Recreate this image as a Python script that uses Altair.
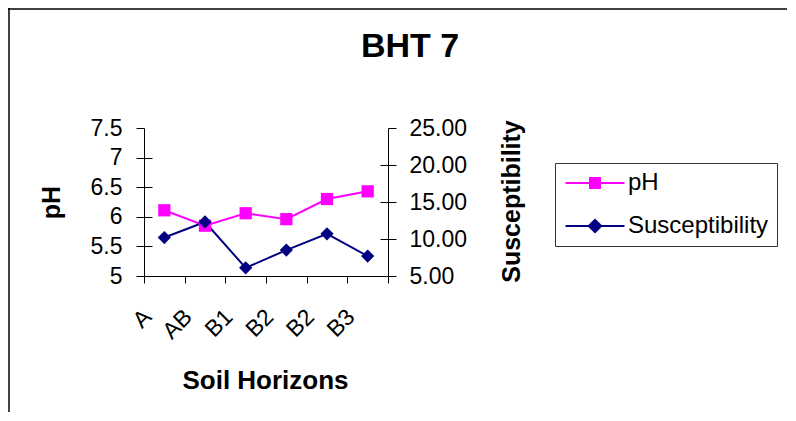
import pandas as pd
import altair as alt

# ---------------- data ----------------
title_text = "BHT 7"
x_title = "Soil Horizons"
categories = ["A", "AB", "B1", "B2", "B2", "B3"]
ph_values = [6.11, 5.85, 6.06, 5.96, 6.30, 6.43]
susc_values = [10.2, 12.3, 6.1, 8.5, 10.7, 7.7]
series_names = ["pH", "Susceptibility"]
ph_ticks = [5, 5.5, 6, 6.5, 7, 7.5]
susc_ticks = [5, 10, 15, 20, 25]

# ---------------- style ----------------
PH_COLOR = "#FF00FF"
SU_COLOR = "#000080"
FONT = "Liberation Sans"
W, H = 244, 148

records = []
for i in range(len(categories)):
    records.append({"idx": i, "series": series_names[0], "value": ph_values[i]})
    records.append({"idx": i, "series": series_names[1], "value": susc_values[i]})
df = pd.DataFrame(records)
one = pd.DataFrame({"t": [title_text]})

label_expr = "[" + ",".join("'" + c + "'" for c in categories) + "][datum.value]"


def square_symbol(h, step, half_line):
    p = [f"M{-half_line},0L{half_line},0", f"M{-h},{-h}L{h},{-h}L{h},{h}L{-h},{h}Z"]
    y = -h
    while y <= h + 1e-9:
        p.append(f"M{-h},{y:.3f}L{h},{y:.3f}")
        y += step
    return "".join(p)


def diamond_symbol(d, step, half_line):
    p = [f"M{-half_line},0L{half_line},0", f"M{-d},0L0,{-d}L{d},0L0,{d}Z"]
    y = -d
    while y <= d + 1e-9:
        w = d - abs(y)
        p.append(f"M{-w:.3f},{y:.3f}L{w:.3f},{y:.3f}")
        y += step
    return "".join(p)


sq_path = square_symbol(0.5, 0.125, 2.95)
di_path = diamond_symbol(0.62, 0.125, 2.95)

x_enc = alt.X(
    "idx:O",
    scale=alt.Scale(type="band", paddingInner=0, paddingOuter=0),
    axis=alt.Axis(
        title=x_title, labelExpr=label_expr, labelAngle=315, labelAlign="right",
        labelBaseline="middle", labelOffset=-17, labelPadding=30, labelOverlap=False,
        tickBand="extent", tickSize=7, tickColor="black", domainColor="black",
        labelFont=FONT, labelFontSize=23, labelColor="black",
        titleFont=FONT, titleFontSize=26, titleFontWeight="bold", titleColor="black",
        titleX=121, titleY=112, titleAlign="center", titleBaseline="alphabetic", grid=False,
    ),
)

ph_scale = alt.Scale(domain=[ph_ticks[0], ph_ticks[-1]], nice=False, zero=False)
su_scale = alt.Scale(domain=[susc_ticks[0], susc_ticks[-1]], nice=False, zero=False)

ax_common = dict(grid=False, domainColor="black", tickColor="black", labelFont=FONT,
                 labelFontSize=23, labelColor="black", titleFont=FONT, titleFontSize=25,
                 titleFontWeight="bold", titleColor="black")

ph_axis = alt.Axis(orient="left", values=ph_ticks, format="~g", tickSize=8, labelPadding=14,
                   title="pH", titleAngle=270, titleX=-93, titleY=74, titleAlign="center",
                   titleBaseline="middle", **ax_common)
su_axis = alt.Axis(orient="right", values=susc_ticks, format=".2f", tickSize=8, labelPadding=13,
                   title="Susceptibility", titleAngle=270, titleX=123, titleY=73,
                   titleAlign="center", titleBaseline="middle", **ax_common)
ph_inner = alt.Axis(orient="left", values=ph_ticks[1:-1], offset=-8, tickSize=8, domain=False,
                    labels=False, title=None, grid=False, tickColor="black")
su_inner = alt.Axis(orient="right", values=susc_ticks[1:-1], offset=-8, tickSize=8, domain=False,
                    labels=False, title=None, grid=False, tickColor="black")

base = alt.Chart(df)
ph_data = base.transform_filter(alt.datum.series == series_names[0])
su_data = base.transform_filter(alt.datum.series == series_names[1])

ph_line = ph_data.mark_line(color=PH_COLOR, strokeWidth=2).encode(
    x=x_enc, y=alt.Y("value:Q", scale=ph_scale, axis=ph_axis))
ph_pts = ph_data.mark_point(shape="square", filled=True, size=150, color=PH_COLOR, opacity=1).encode(
    x=x_enc, y=alt.Y("value:Q", scale=ph_scale, axis=ph_inner))
su_line = su_data.mark_line(color=SU_COLOR, strokeWidth=2).encode(
    x=x_enc, y=alt.Y("value:Q", scale=su_scale, axis=su_axis))
su_pts = su_data.mark_point(shape="diamond", filled=True, size=175, color=SU_COLOR, opacity=1).encode(
    x=x_enc, y=alt.Y("value:Q", scale=su_scale, axis=su_inner))

legend_cfg = dict(orient="none", legendX=411, legendY=35, title=None, padding=8, rowPadding=19,
                  symbolSize=400, symbolOffset=20, labelOffset=21, labelFont=FONT,
                  labelFontSize=24, labelColor="black", labelLimit=300, strokeColor="#333333",
                  fillColor="white", symbolStrokeWidth=2, symbolOpacity=1)

legend_layer = base.transform_filter("false").mark_point(
    filled=False, strokeWidth=2, opacity=1, size=400).encode(
    color=alt.Color("series:N", scale=alt.Scale(domain=series_names, range=[PH_COLOR, SU_COLOR]),
                    legend=alt.Legend(**legend_cfg)),
    shape=alt.Shape("series:N", scale=alt.Scale(domain=series_names, range=[sq_path, di_path]),
                    legend=alt.Legend(**legend_cfg)),
)

title_layer = alt.Chart(one).mark_text(
    font=FONT, fontSize=34, fontWeight="bold", color="black", align="center",
    baseline="alphabetic").encode(text="t:N", x=alt.value(266), y=alt.value(-71))

border_top = alt.Chart(one).mark_rule(color="black", strokeWidth=1.5).encode(
    x=alt.value(-136), x2=alt.value(700), y=alt.value(-119))
border_left = alt.Chart(one).mark_rule(color="black", strokeWidth=1.5).encode(
    x=alt.value(-135), y=alt.value(-120), y2=alt.value(300))

chart = alt.layer(
    border_top, border_left, ph_line, su_line, ph_pts, su_pts, legend_layer, title_layer
).resolve_scale(y="independent").properties(
    width=W, height=H,
    autosize=alt.AutoSizeParams(type="none"),
    padding={"left": 136, "top": 120, "right": 399, "bottom": 136},
).configure_view(strokeWidth=0)

chart.save("out.html", embed_options={"renderer": "svg", "actions": False})
